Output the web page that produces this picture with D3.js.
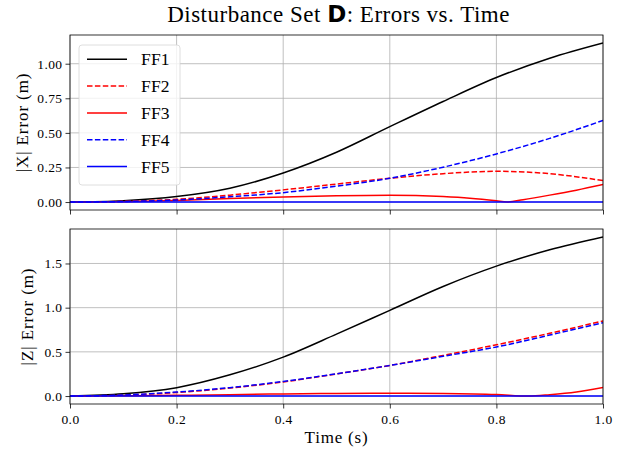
<!DOCTYPE html>
<html>
<head>
<meta charset="utf-8">
<script src="https://cdn.jsdelivr.net/npm/d3@7"></script>
<style>
  body { margin: 0; background: #fff; }
  text { font-family: "Liberation Serif", "Times New Roman", serif; }
</style>
</head>
<body>
<div id="chart"></div>
<script>
// sample times (s)
const time = [0, 0.1, 0.2, 0.3, 0.4, 0.5, 0.6, 0.7, 0.8, 0.9, 1.0]

// |X| error (m)
const xFF1 = [0, 0.01, 0.04, 0.10, 0.21, 0.36, 0.545, 0.727, 0.90, 1.04, 1.15]
const xFF2 = [0, 0.005, 0.02, 0.05, 0.088, 0.13, 0.172, 0.205, 0.222, 0.205, 0.155]
const xFF4 = [0, 0.004, 0.015, 0.038, 0.068, 0.115, 0.172, 0.252, 0.348, 0.46, 0.59]
const xFF5 = [0, 0, 0, 0, 0, 0, 0, 0, 0, 0, 0]
const timeX3 = [0, 0.1, 0.2, 0.3, 0.4, 0.5, 0.6, 0.7, 0.75, 0.8, 0.82, 0.85, 0.9, 0.95, 1.0]
const xFF3 = [0, 0.003, 0.012, 0.025, 0.037, 0.046, 0.05, 0.04, 0.028, 0.009, 0, 0.017, 0.05, 0.086, 0.127]

// |Z| error (m)
const zFF1 = [0, 0.025, 0.095, 0.24, 0.44, 0.70, 0.97, 1.24, 1.47, 1.655, 1.80]
const zFF2 = [0, 0.01, 0.04, 0.09, 0.16, 0.25, 0.346, 0.46, 0.58, 0.71, 0.85]
const zFF4 = [0, 0.012, 0.045, 0.095, 0.165, 0.252, 0.346, 0.45, 0.555, 0.69, 0.83]
const zFF5 = [0, 0, 0, 0, 0, 0, 0, 0, 0, 0, 0]
const timeZ3 = [0, 0.1, 0.2, 0.3, 0.4, 0.5, 0.6, 0.7, 0.8, 0.86, 0.9, 0.95, 1.0]
const zFF3 = [0, 0.002, 0.008, 0.016, 0.024, 0.03, 0.033, 0.03, 0.018, 0, 0.015, 0.045, 0.097]

const legendNames = ["FF1", "FF2", "FF3", "FF4", "FF5"]
const xTicks = [0, 0.2, 0.4, 0.6, 0.8, 1.0]
const topTicks = [0, 0.25, 0.5, 0.75, 1.0]
const botTicks = [0, 0.5, 1.0, 1.5]

const styles = {
    FF1: { color: "#000000", dash: null },
    FF2: { color: "#ff0000", dash: "5.5,2.4" },
    FF3: { color: "#ff0000", dash: null },
    FF4: { color: "#0000ff", dash: "5.5,2.4" },
    FF5: { color: "#0000ff", dash: null }
}

const W = 620, H = 453
const left = 70, right = 603

const svg = d3.select("#chart").append("svg")
    .attr("width", W).attr("height", H)

const xScale = d3.scaleLinear().domain([0, 1]).range([left, right])

const panels = [
    { top: 35, bottom: 210, domain: [-0.0575, 1.2075], ticks: topTicks, fmt: d3.format(".2f"),
      label: "|X| Error (m)", labelX: 24, showX: false,
      series: [
        { key: "FF1", t: time, v: xFF1 },
        { key: "FF2", t: time, v: xFF2 },
        { key: "FF3", t: timeX3, v: xFF3 },
        { key: "FF4", t: time, v: xFF4 },
        { key: "FF5", t: time, v: xFF5 }
      ] },
    { top: 229, bottom: 404, domain: [-0.09, 1.89], ticks: botTicks, fmt: d3.format(".1f"),
      label: "|Z| Error (m)", labelX: 29, showX: true,
      series: [
        { key: "FF1", t: time, v: zFF1 },
        { key: "FF2", t: time, v: zFF2 },
        { key: "FF3", t: timeZ3, v: zFF3 },
        { key: "FF4", t: time, v: zFF4 },
        { key: "FF5", t: time, v: zFF5 }
      ] }
]

panels.forEach(p => {
    const yScale = d3.scaleLinear().domain(p.domain).range([p.bottom, p.top])
    const g = svg.append("g")
    const clipId = "clip" + p.top
    svg.append("clipPath").attr("id", clipId)
        .append("rect").attr("x", left).attr("y", p.top)
        .attr("width", right - left).attr("height", p.bottom - p.top)

    // grid
    g.selectAll("line.gx").data(xTicks).join("line")
        .attr("x1", d => xScale(d)).attr("x2", d => xScale(d))
        .attr("y1", p.top).attr("y2", p.bottom)
        .attr("stroke", "#b0b0b0").attr("stroke-width", 0.8)
    g.selectAll("line.gy").data(p.ticks).join("line")
        .attr("x1", left).attr("x2", right)
        .attr("y1", d => yScale(d)).attr("y2", d => yScale(d))
        .attr("stroke", "#b0b0b0").attr("stroke-width", 0.8)

    // lines
    const line = d3.line()
        .curve(d3.curveMonotoneX)
        .x(d => xScale(d[0]))
        .y(d => yScale(d[1]))
    g.append("g").attr("clip-path", `url(#${clipId})`)
        .selectAll("path").data(p.series).join("path")
        .attr("d", s => line(s.t.map((t, i) => [t, s.v[i]])))
        .attr("fill", "none")
        .attr("stroke", s => styles[s.key].color)
        .attr("stroke-width", 1.5)
        .attr("stroke-dasharray", s => styles[s.key].dash)

    // axes
    const yAxis = d3.axisLeft(yScale).tickValues(p.ticks).tickFormat(p.fmt)
        .tickSize(4.5).tickPadding(3)
    const ya = g.append("g").attr("transform", `translate(${left},0)`).call(yAxis)
    const xAxis = d3.axisBottom(xScale).tickValues(xTicks)
        .tickFormat(p.showX ? d3.format(".1f") : "").tickSize(4.5).tickPadding(6)
    const xa = g.append("g").attr("transform", `translate(0,${p.bottom})`).call(xAxis)
    ;[ya, xa].forEach(a => {
        a.select(".domain").remove()
        a.selectAll("line").attr("stroke", "#000").attr("stroke-width", 0.8)
        a.selectAll("text").attr("fill", "#000")
            .style("font-family", '"Liberation Serif", serif').style("font-size", "13.5px")
            .style("letter-spacing", "0.4px")
    })

    g.append("rect").attr("x", left).attr("y", p.top)
        .attr("width", right - left).attr("height", p.bottom - p.top)
        .attr("fill", "none").attr("stroke", "#000").attr("stroke-width", 0.8)

    g.append("text")
        .attr("transform", `translate(${p.labelX},${(p.top + p.bottom) / 2}) rotate(-90)`)
        .attr("text-anchor", "middle").attr("dominant-baseline", "middle")
        .style("font-size", "17px").style("letter-spacing", "0.9px").text(p.label)

    if (!p.showX) {
        // legend
        const lg = svg.append("g")
        lg.append("rect").attr("x", 79).attr("y", 45).attr("width", 101).attr("height", 140)
            .attr("rx", 3).attr("fill", "#fff").attr("fill-opacity", 0.8)
            .attr("stroke", "#d6d6d6").attr("stroke-width", 0.8)
        legendNames.forEach((n, i) => {
            const y = 59.3 + i * 26.8
            lg.append("line").attr("x1", 87).attr("x2", 127).attr("y1", y).attr("y2", y)
                .attr("stroke", styles[n].color).attr("stroke-width", 1.5)
                .attr("stroke-dasharray", styles[n].dash)
            lg.append("text").attr("x", 141).attr("y", y).attr("dy", "0.35em")
                .style("font-size", "17.5px").style("letter-spacing", "0.2px").text(n)
        })
    }
})

svg.append("text").attr("x", (left + right) / 2).attr("y", 443)
    .attr("text-anchor", "middle").style("font-size", "17px").style("letter-spacing", "0.8px")
    .text("Time (s)")

const title = svg.append("text").attr("x", (left + right) / 2 + 2).attr("y", 22)
    .attr("text-anchor", "middle").style("font-size", "23px").style("letter-spacing", "0.5px")
title.append("tspan").text("Disturbance Set ")
title.append("tspan").style("font-family", '"DejaVu Sans", sans-serif').style("font-weight", "bold").text("D")
title.append("tspan").text(": Errors vs. Time")
</script>
</body>
</html>
